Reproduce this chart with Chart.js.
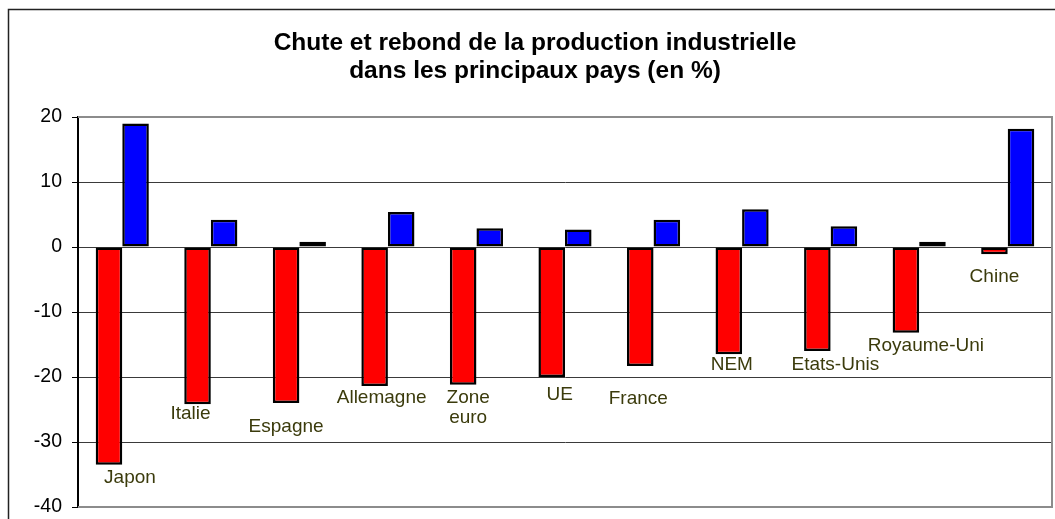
<!DOCTYPE html>
<html>
<head>
<meta charset="utf-8">
<script src="https://cdn.jsdelivr.net/npm/chart.js@4.4.1/dist/chart.umd.min.js"></script>
<style>
  html, body { margin: 0; padding: 0; background: #fff; }
  #wrap { width: 1055px; height: 519px; position: relative; }
</style>
</head>
<body>
<div id="wrap"><canvas id="chart"></canvas></div>
<script>
// données
const categories = ['Japon', 'Italie', 'Espagne', 'Allemagne', ['Zone', 'euro'], 'UE', 'France', 'NEM', 'Etats-Unis', 'Royaume-Uni', 'Chine'];
const chute = [-33.5, -24.2, -24.0, -21.4, -21.2, -20.0, -18.3, -16.5, -16.0, -13.2, -1.1];
const rebond = [19.0, 4.2, 0.8, 5.4, 2.9, 2.7, 4.2, 5.8, 3.2, 0.8, 18.2];
const yTicks = [20, 10, 0, -10, -20, -30, -40];

const FONT = "'Liberation Sans', Arial, sans-serif";

// décalage des étiquettes par rapport au bas de la barre rouge (dx, dy)
const labelOffsets = [[21, 13], [-7, 9], [0, 24], [7, 12], [5, 13], [8, 18], [-2, 33], [3, 11], [18, 14], [20, 13], [0, 23]];

const framePlugin = {
    id: 'frame',
    beforeDraw(chart) {
        const c = chart.ctx;
        c.save();
        c.strokeStyle = '#222';
        c.lineWidth = 1.5;
        c.strokeRect(8.5, 9.5, 1200, 600);
        c.restore();
    },
    beforeDatasetsDraw(chart) {
        const a = chart.chartArea;
        const c = chart.ctx;
        c.save();
        c.strokeStyle = '#8c8c8c';
        c.lineWidth = 2;
        c.beginPath();
        c.moveTo(a.left, a.top);
        c.lineTo(a.right, a.top);
        c.lineTo(a.right, a.bottom);
        c.lineTo(a.left, a.bottom);
        c.stroke();
        c.restore();
    }
};

const labelPlugin = {
    id: 'countryLabels',
    afterDatasetsDraw(chart) {
        const c = chart.ctx;
        const meta = chart.getDatasetMeta(0);
        c.save();
        c.font = '19px ' + FONT;
        c.fillStyle = '#3b3b0c';
        c.textAlign = 'center';
        c.textBaseline = 'middle';
        meta.data.forEach((bar, i) => {
            const off = labelOffsets[i] || [0, 15];
            const lab = chart.data.labels[i];
            const lines = Array.isArray(lab) ? lab : [lab];
            lines.forEach((t, j) => {
                c.fillText(t, bar.x + off[0], bar.y + off[1] + j * 20);
            });
        });
        c.restore();
    }
};

new Chart(document.getElementById('chart'), {
    type: 'bar',
    data: {
        labels: categories,
        datasets: [{
            label: 'Chute',
            data: chute,
            backgroundColor: '#ff0000',
            borderColor: '#000',
            borderWidth: 2.5,
            borderSkipped: false
        }, {
            label: 'Rebond',
            data: rebond,
            backgroundColor: '#0000ff',
            borderColor: '#000',
            borderWidth: 2.5,
            borderSkipped: false
        }]
    },
    options: {
        responsive: true,
        maintainAspectRatio: false,
        animation: false,
        layout: { padding: { left: 18, right: 3, top: 0, bottom: 12 } },
        datasets: { bar: { categoryPercentage: 0.6, barPercentage: 1.0 } },
        plugins: {
            legend: { display: false },
            tooltip: { enabled: false },
            title: {
                display: true,
                text: ['Chute et rebond de la production industrielle', 'dans les principaux pays (en %)'],
                color: '#000',
                font: { family: FONT, size: 24.5, weight: 'bold', lineHeight: 28 / 24.5 },
                padding: { top: 29, bottom: 32 }
            }
        },
        scales: {
            x: { display: false },
            y: {
                min: -40,
                max: 20,
                afterFit(scale) {
                    scale.width = 60;
                    scale.paddingTop = 0;
                    scale.paddingBottom = 0;
                },
                afterBuildTicks(scale) { scale.ticks = yTicks.map(v => ({ value: v })); },
                ticks: {
                    color: '#000',
                    padding: 10,
                    font: { family: FONT, size: 19.5 }
                },
                grid: {
                    color: ctx => (ctx.tick && (ctx.tick.value === 20 || ctx.tick.value === -40)) ? 'rgba(0,0,0,0)' : '#3a3a3a',
                    lineWidth: 1,
                    tickLength: 6,
                    tickColor: '#000'
                },
                border: { color: '#000', width: 2 }
            }
        }
    },
    plugins: [framePlugin, labelPlugin]
});
</script>
</body>
</html>
